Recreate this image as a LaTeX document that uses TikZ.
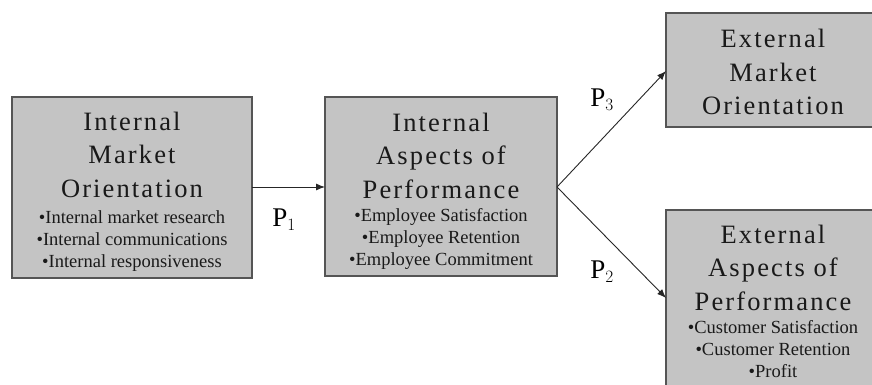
\documentclass[tikz,border=0pt]{standalone}
\usepackage{fontspec}
\setmainfont{Liberation Serif}
\newfontfamily\titlefont[LetterSpace=8]{Liberation Serif}
\usetikzlibrary{arrows.meta}
\definecolor{boxfill}{HTML}{C4C4C4}
\definecolor{boxline}{HTML}{555555}
\tikzset{
  box/.style={draw=boxline, line width=1.2pt, fill=boxfill},
  ttl/.style={font=\titlefont\fontsize{26.5}{33.5}\selectfont, align=center, inner sep=0pt, text=black!90},
  bul/.style={font=\fontsize{18.5}{22}\selectfont, align=center, inner sep=0pt, text=black!90},
  conn/.style={draw=black!85, line width=0.9pt, -{Latex[length=9pt,width=7pt]}},
  plab/.style={font=\fontsize{27}{30}\selectfont, inner sep=0pt}
}
\begin{document}
\begin{tikzpicture}[x=1pt,y=-1pt]
\useasboundingbox (0,0) rectangle (872,385);
\fill[white] (0,0) rectangle (872,385);
% boxes
\draw[box] (12,97) rectangle (252,278);
\draw[box] (325,97) rectangle (557,276);
\draw[box] (666,13) rectangle (882,127);
\draw[box] (666,210) rectangle (882,395);
\coordinate (b1r) at (252,187);
\coordinate (b2l) at (325,187);
\coordinate (b2r) at (557,187);
\coordinate (b3l) at (666,71);
\coordinate (b4l) at (666,298);
% texts (base = baseline of last line)
\node[ttl, anchor=base] (t1) at (132,197) {Internal\\Market\\Orientation};
\node[bul, anchor=base] (u1) at (132,267) {•Internal market research\\•Internal communications\\•Internal responsiveness};
\node[ttl, anchor=base] (t2) at (441,198) {Internal\\Aspects of\\Performance};
\node[bul, anchor=base] (u2) at (441,265) {•Employee Satisfaction\\•Employee Retention\\•Employee Commitment};
\node[ttl, anchor=base] (t3) at (773,115) {External\\Market\\Orientation};
\node[ttl, anchor=base] (t4) at (773,310) {External\\Aspects of\\Performance};
\node[bul, anchor=base] (u4) at (773,377) {•Customer Satisfaction\\•Customer Retention\\•Profit};
% connectors
\draw[conn] (b1r) -- (b2l);
\draw[conn] (b2r) -- (b3l);
\draw[conn] (b2r) -- (b4l);
\node[plab] (p1) at (284,220) {P$_1$};
\node[plab] (p3) at (602,100) {P$_3$};
\node[plab] (p2) at (602,272) {P$_2$};
\end{tikzpicture}
\end{document}
